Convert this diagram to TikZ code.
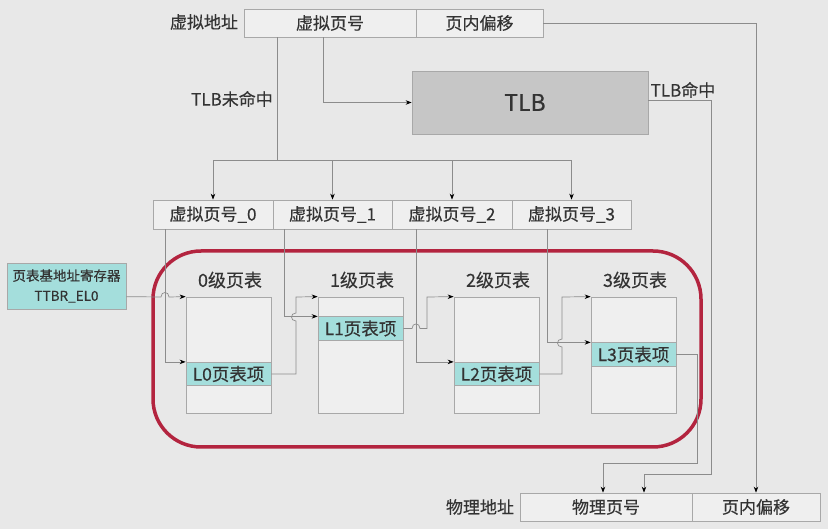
\documentclass[tikz,border=0pt]{standalone}
\usepackage{fontspec}
\setmainfont[FakeBold=0.4]{Noto Sans CJK SC}
\usetikzlibrary{arrows.meta}

\definecolor{bggray}{HTML}{E8E8E8}
\definecolor{cellfill}{HTML}{EFEFEF}
\definecolor{boxgray}{HTML}{A8A8A8}
\definecolor{linegray}{HTML}{8C8C8C}
\definecolor{txtgray}{HTML}{333333}
\definecolor{tlbfill}{HTML}{C6C6C6}
\definecolor{pte}{HTML}{A4DEDC}
\definecolor{framered}{HTML}{B3243F}

\begin{document}
\begin{tikzpicture}[
x=1pt, y=-1pt, % one unit per pixel of the reference
>={Stealth[length=6pt,width=4.5pt,black]},
line width=0.7pt,
wire/.style={draw=linegray},
txt/.style={inner sep=0pt, text=txtgray, font=\fontsize{17}{20}\selectfont},
cell/.style={txt, draw=boxgray, fill=cellfill, minimum height=28pt},
tabbox/.style={draw=boxgray, fill=cellfill, minimum width=85pt, minimum height=116pt, inner sep=0pt},
entry/.style={txt, draw=boxgray, fill=pte, minimum width=85pt, minimum height=23.5pt, font=\fontsize{17.5}{20}\selectfont},
title/.style={txt, font=\fontsize{18}{21}\selectfont}
]

% ================= Background =================
\useasboundingbox (0,0) rectangle (828,529);
\fill[bggray] (0,0) rectangle (828,529);

% ================= Virtual address =================
\node[txt] (valabel) at (204,22) {虚拟地址};
\node[cell, minimum width=172pt] (vpn) at (330,23) {虚拟页号};
\node[cell, minimum width=127pt] (voff) at (479.5,23) {页内偏移};

% TLB
\node[draw=boxgray, fill=tlbfill, minimum width=236pt, minimum height=63pt, inner sep=0pt,
      text=txtgray, font=\fontsize{23}{26}\selectfont] (tlb) at (530,102.5) {\hspace*{-10pt}TLB};
\node[txt] (miss) at (232,99) {TLB未命中};
\node[txt] (hit) at (683,90) {TLB命中};

% Split virtual page numbers
\node[cell, minimum width=120pt, minimum height=29pt] (vpn0) at (213,214.5) {虚拟页号\_0};
\node[cell, minimum width=119pt, minimum height=29pt] (vpn1) at (332.5,214.5) {虚拟页号\_1};
\node[cell, minimum width=120pt, minimum height=29pt] (vpn2) at (452,214.5) {虚拟页号\_2};
\node[cell, minimum width=119pt, minimum height=29pt] (vpn3) at (571.5,214.5) {虚拟页号\_3};
\coordinate (split) at (277,160);

% Base register
\node[txt, draw=boxgray, fill=pte, minimum width=119pt, minimum height=46pt, align=center,
      font=\fontsize{13.5}{20}\selectfont] (ttbr) at (66.5,286) {页表基地址寄存器\\TTBR\_EL0};

% ================= Page tables =================
\draw[framered, line width=3.5pt, rounded corners=48pt] (153,251) rectangle (701,447);

\node[tabbox] (t0) at (228.5,355) {};
\node[tabbox] (t1) at (360.5,355) {};
\node[tabbox] (t2) at (496.5,355) {};
\node[tabbox] (t3) at (633.5,355) {};

\node[title] (t0title) at (230,280) {0级页表};
\node[title] (t1title) at (362,280) {1级页表};
\node[title] (t2title) at (498,280) {2级页表};
\node[title] (t3title) at (635,280) {3级页表};

\node[entry] (e0) at (228.5,374) {L0页表项};
\node[entry] (e1) at (360.5,328.5) {L1页表项};
\node[entry] (e2) at (496.5,374) {L2页表项};
\node[entry] (e3) at (633.5,354.5) {L3页表项};

% ================= Physical address =================
\node[txt] (palabel) at (480,507) {物理地址};
\node[cell, minimum width=172pt] (ppn) at (606,507) {物理页号};
\node[cell, minimum width=128pt] (poff) at (756,507) {页内偏移};

% ================= Connectors =================

% Offset goes straight through
\draw[wire, ->] (voff.east) -| (poff.north);

% Lookup in the TLB, hit and miss
\draw[wire, ->] ([xshift=-7pt]vpn.south) |- (tlb.west);
\draw[wire] (split |- vpn.south) -- (split);
\draw[wire, ->] (split) -| (vpn0.north);
\draw[wire, ->] (split) -| (vpn1.north);
\draw[wire, ->] (split) -| (vpn2.north);
\draw[wire, ->] (split) -| (vpn3.north);
\draw[wire, ->] ([yshift=2.5pt]tlb.east) -| (711,474) -| ([xshift=38pt]ppn.north);

% Index of each level
\draw[wire, ->] ([xshift=-48pt]vpn0.south) |- (e0.north west);
\draw[wire, ->] ([xshift=-48.5pt]vpn1.south) |- (e1.north west);
\draw[wire, ->] ([xshift=-36pt]vpn2.south) |- (e2.north west);
\draw[wire, ->] ([xshift=-24.5pt]vpn3.south) |- (e3.north west);

% Table base chain (with hops over crossing lines)
\draw[wire, ->] (ttbr.east |- t0.north west) -- (161,297) .. controls (161,291) and (169,291) .. (169,297) -- (t0.north west);
\draw[wire, ->] (e0.east) -- (296,374) -- (296,321) .. controls (290,321) and (290,313) .. (296,313) -- (296,297) -- (t1.north west);
\draw[wire, ->] (e1.east) -- (412,328.5) .. controls (412,322.5) and (420,322.5) .. (420,328.5) -- (427,328.5) -- (427,297) -- (t2.north west);
\draw[wire, ->] (e2.east) -- (562,374) -- (562,347) .. controls (556,347) and (556,339) .. (562,339) -- (562,297) -- (t3.north west);

% Last level gives the physical page number
\draw[wire, ->] (e3.east) -| (697,463) -| ([xshift=-3pt]ppn.north);

\end{tikzpicture}
\end{document}
